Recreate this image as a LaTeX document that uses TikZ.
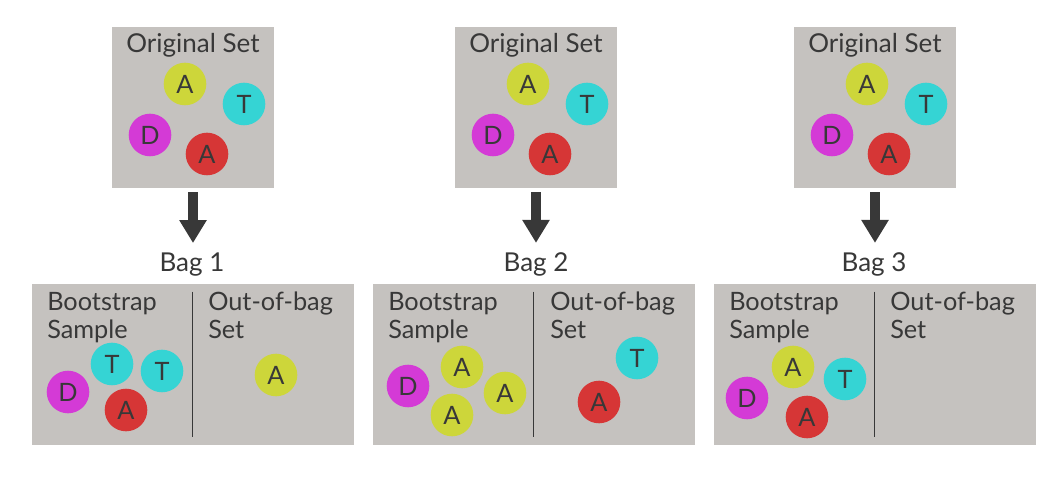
\documentclass[tikz,border=0pt]{standalone}
\usepackage{fontspec}
\setmainfont{Lato}
\usepackage{xcolor}
\usepackage{tikz}
\usetikzlibrary{arrows.meta}
\definecolor{BagGrey}{HTML}{C5C2BF}
\definecolor{BagInk}{HTML}{383838}
\definecolor{BallYellow}{HTML}{CDD63A}
\definecolor{BallCyan}{HTML}{35D4D4}
\definecolor{BallMagenta}{HTML}{D43AD6}
\definecolor{BallRed}{HTML}{D63636}

\begin{document}
\begin{tikzpicture}[x=1cm,y=1cm,
  setbox/.style={fill=BagGrey,draw=none,minimum width=4.05cm,minimum height=4.025cm,inner sep=0pt},
  bagbox/.style={fill=BagGrey,draw=none,minimum width=8.05cm,minimum height=4.025cm,inner sep=0pt},
  ball/.style={circle,draw=none,minimum size=1.065cm,inner sep=0pt,text=BagInk,font=\fontsize{18}{20}\selectfont},
  headtxt/.style={text=BagInk,inner sep=0pt,font=\fontsize{18.5}{21}\selectfont},
  subtxt/.style={text=BagInk,inner sep=0pt,align=left,anchor=north west,font=\fontsize{18}{20}\selectfont},
  bagarrow/.style={draw=BagInk,line width=7.8pt,-{Triangle[width=0.65cm,length=0.575cm]},shorten <=0.1cm,shorten >=0.25cm}]
\path[use as bounding box] (0,0) rectangle (26.475,11.95);
% original sets
\node[setbox] (orig1) at (4.825,9.2625) {};
\node[setbox] (orig2) at (13.40,9.2625) {};
\node[setbox] (orig3) at (21.875,9.2625) {};
\node[headtxt,anchor=base] (origtxt1) at (4.825,10.625) {Original Set};
\node[headtxt,anchor=base] (origtxt2) at (13.40,10.625) {Original Set};
\node[headtxt,anchor=base] (origtxt3) at (21.875,10.625) {Original Set};
\node[ball,fill=BallYellow] (o1a) at (4.625,9.85) {A};
\node[ball,fill=BallCyan] (o1t) at (6.10,9.35) {T};
\node[ball,fill=BallMagenta] (o1d) at (3.75,8.575) {D};
\node[ball,fill=BallRed] (o1r) at (5.175,8.10) {A};
\node[ball,fill=BallYellow] (o2a) at (13.20,9.85) {A};
\node[ball,fill=BallCyan] (o2t) at (14.675,9.35) {T};
\node[ball,fill=BallMagenta] (o2d) at (12.325,8.575) {D};
\node[ball,fill=BallRed] (o2r) at (13.75,8.10) {A};
\node[ball,fill=BallYellow] (o3a) at (21.675,9.85) {A};
\node[ball,fill=BallCyan] (o3t) at (23.15,9.35) {T};
\node[ball,fill=BallMagenta] (o3d) at (20.80,8.575) {D};
\node[ball,fill=BallRed] (o3r) at (22.225,8.10) {A};
% bag titles and arrows
\node[headtxt,anchor=base] (bagtxt1) at (4.80,5.15) {Bag 1};
\node[headtxt,anchor=base] (bagtxt2) at (13.40,5.15) {Bag 2};
\node[headtxt,anchor=base] (bagtxt3) at (21.85,5.15) {Bag 3};
\draw[bagarrow] (orig1.south) -- (bagtxt1.north -| orig1.south);
\draw[bagarrow] (orig2.south) -- (bagtxt2.north -| orig2.south);
\draw[bagarrow] (orig3.south) -- (bagtxt3.north -| orig3.south);
% bags
\node[bagbox] (bag1) at (4.8125,2.8375) {};
\node[bagbox] (bag2) at (13.3375,2.8375) {};
\node[bagbox] (bag3) at (21.8625,2.8375) {};
\draw[BagInk,line width=1.2pt] ([yshift=-0.2cm]bag1.north) -- ([yshift=0.2cm]bag1.south);
\draw[BagInk,line width=1.2pt] ([yshift=-0.2cm]bag2.north) -- ([yshift=0.2cm]bag2.south);
\draw[BagInk,line width=1.2pt] ([yshift=-0.2cm]bag3.north) -- ([yshift=0.2cm]bag3.south);
\node[subtxt] (boot1) at (1.175,4.66) {Bootstrap\\Sample};
\node[subtxt] (oob1) at (5.20,4.66) {Out-of-bag\\Set};
\node[subtxt] (boot2) at (9.70,4.66) {Bootstrap\\Sample};
\node[subtxt] (oob2) at (13.75,4.66) {Out-of-bag\\Set};
\node[subtxt] (boot3) at (18.225,4.66) {Bootstrap\\Sample};
\node[subtxt] (oob3) at (22.25,4.66) {Out-of-bag\\Set};
% bag 1
\node[ball,fill=BallCyan] (b1t) at (2.80,2.85) {T};
\node[ball,fill=BallCyan] (b1u) at (4.05,2.675) {T};
\node[ball,fill=BallMagenta] (b1d) at (1.70,2.15) {D};
\node[ball,fill=BallRed] (b1r) at (3.15,1.70) {A};
\node[ball,fill=BallYellow] (b1o) at (6.90,2.575) {A};
% bag 2
\node[ball,fill=BallYellow] (b2a) at (11.55,2.775) {A};
\node[ball,fill=BallMagenta] (b2d) at (10.20,2.30) {D};
\node[ball,fill=BallYellow] (b2b) at (12.625,2.125) {A};
\node[ball,fill=BallYellow] (b2c) at (11.30,1.575) {A};
\node[ball,fill=BallCyan] (b2t) at (15.925,3.00) {T};
\node[ball,fill=BallRed] (b2r) at (14.975,1.90) {A};
% bag 3
\node[ball,fill=BallYellow] (b3a) at (19.825,2.775) {A};
\node[ball,fill=BallCyan] (b3t) at (21.125,2.475) {T};
\node[ball,fill=BallMagenta] (b3d) at (18.675,2.00) {D};
\node[ball,fill=BallRed] (b3r) at (20.175,1.525) {A};
\end{tikzpicture}
\end{document}
